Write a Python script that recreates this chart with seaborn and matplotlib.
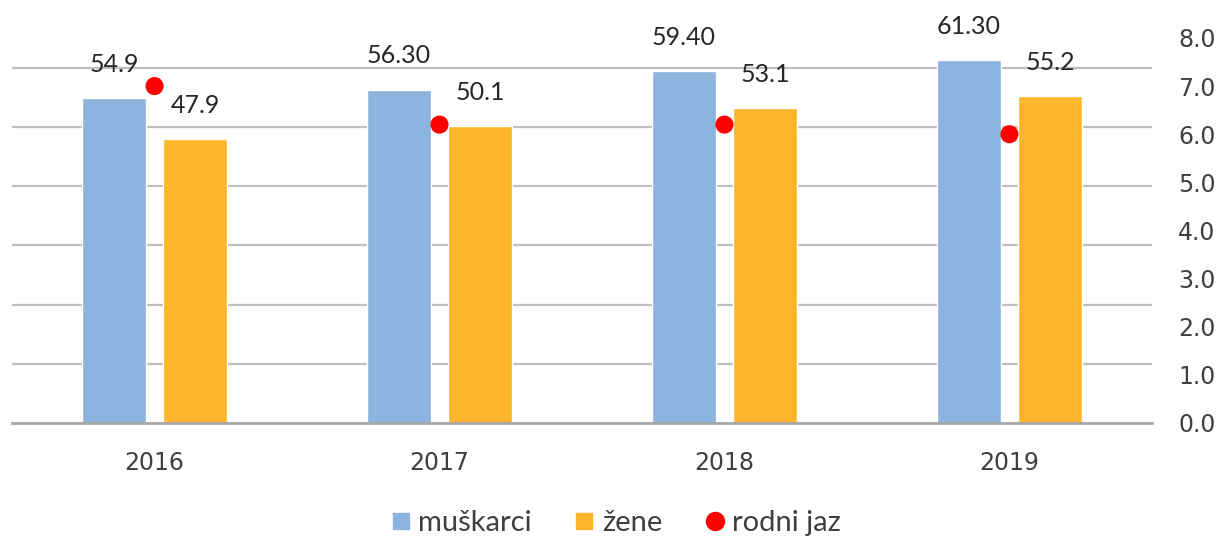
import matplotlib
matplotlib.use("Agg")
import matplotlib.pyplot as plt
from matplotlib.lines import Line2D
import pandas as pd
import seaborn as sns

godine = ["2016", "2017", "2018", "2019"]
muskarci = [54.9, 56.3, 59.4, 61.3]
zene = [47.9, 50.1, 53.1, 55.2]
rodni_jaz = [7.0, 6.2, 6.2, 6.0]
oznake_muskarci = ["54.9", "56.30", "59.40", "61.30"]
oznake_zene = ["47.9", "50.1", "53.1", "55.2"]
desne_oznake = ["0.0", "1.0", "2.0", "3.0", "4.0", "5.0", "6.0", "7.0", "8.0"]

PLAVA = "#8CB4DE"
NARANCASTA = "#FDB52B"
CRVENA = "#FF0000"

sns.set_style("white")
plt.rcParams["font.family"] = ["DejaVu Sans"]

df = pd.DataFrame({
    "godina": godine * 2,
    "vrijednost": muskarci + zene,
    "spol": ["muškarci"] * 4 + ["žene"] * 4,
})

fig = plt.figure(figsize=(12.27, 5.37), dpi=100)
ax = fig.add_axes([0.0098, 0.2123, 0.929, 0.717])

sns.barplot(data=df, x="godina", y="vrijednost", hue="spol",
            palette=[PLAVA, NARANCASTA], width=0.568, gap=0.2,
            saturation=1, legend=False, ax=ax)

ax.set_ylim(0, 65)
ax.set_xlim(-0.5, 3.5)
ax.set_yticks(range(10, 61, 10))
ax.yaxis.grid(True, color="#BFBFBF", linewidth=1.6)
ax.set_axisbelow(True)
ax.set_yticklabels([])
ax.tick_params(axis="y", length=0)
ax.tick_params(axis="x", length=0, pad=20, labelsize=17, labelcolor="#404040")
ax.set_xlabel("")
ax.set_ylabel("")
for s in ["left", "right", "top"]:
    ax.spines[s].set_visible(False)
ax.spines["bottom"].set_color("#A6A6A6")
ax.spines["bottom"].set_linewidth(2)

for kont, oznake in zip(ax.containers, [oznake_muskarci, oznake_zene]):
    ax.bar_label(kont, labels=oznake, padding=16, fontsize=18,
                 family=["Lato", "DejaVu Sans"], color="#262626")

ax2 = ax.twinx()
sns.scatterplot(x=list(range(len(godine))), y=rodni_jaz, color=CRVENA,
                s=170, edgecolor="none", ax=ax2, zorder=5)
ax2.set_ylim(0, 8)
ax2.set_yticks(range(0, 9))
ax2.set_yticklabels(desne_oznake)
ax2.tick_params(axis="y", length=0, pad=19, labelsize=17, labelcolor="#404040")
for s in ["left", "right", "top", "bottom"]:
    ax2.spines[s].set_visible(False)
ax2.grid(False)

rucke = [
    Line2D([], [], marker="s", linestyle="none", color=PLAVA, markersize=12),
    Line2D([], [], marker="s", linestyle="none", color=NARANCASTA, markersize=12),
    Line2D([], [], marker="o", linestyle="none", color=CRVENA, markersize=13),
]
fig.legend(rucke, ["muškarci", "žene", "rodni jaz"], loc="center",
           bbox_to_anchor=(0.5, 0.026), ncol=3, frameon=False,
           handletextpad=0.1, columnspacing=1.3, handlelength=1.0,
           prop={"family": ["Lato", "DejaVu Sans"], "size": 21},
           labelcolor="#404040")

fig.savefig("out.png", dpi=100)
